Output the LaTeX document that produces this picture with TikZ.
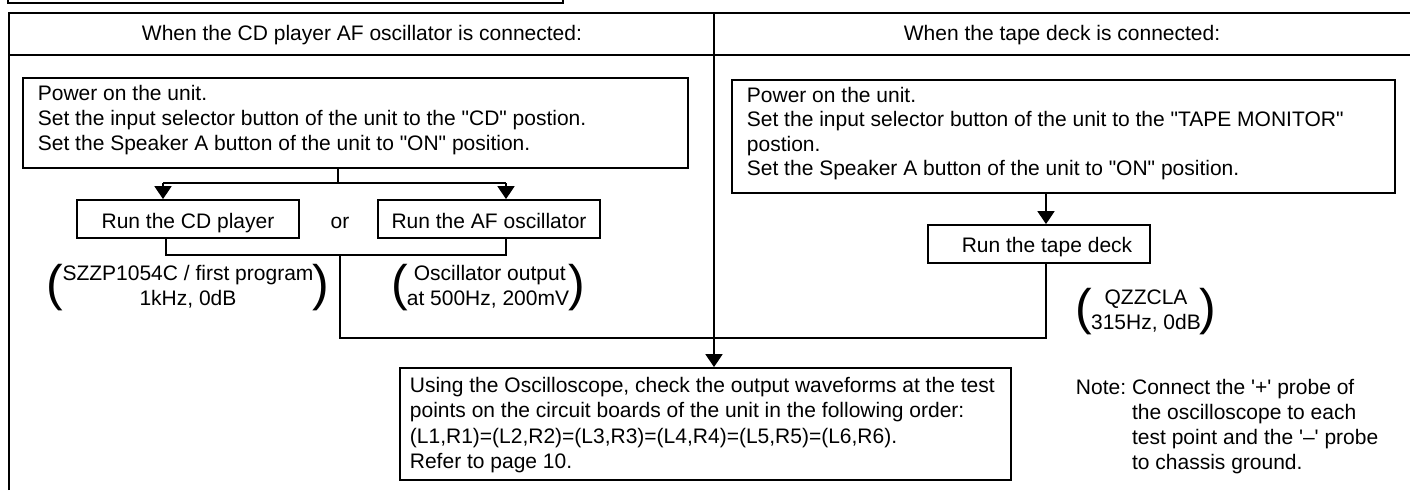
\documentclass[tikz,border=0pt]{standalone}
\usepackage{fontspec}
\setmainfont{Liberation Sans}
\usetikzlibrary{arrows.meta}
\newcommand\bigpar[1]{\vcenter{\hbox{\fontsize{50}{50}\selectfont #1}}}
\newcommand\pgroup[2]{$\bigpar{(}\kern-1pt\vcenter{\hbox{\begin{tabular}{@{}c@{}}#1\\#2\end{tabular}}}\kern-1pt\bigpar{)}$}
\newcommand\qd{\textquotedbl}
\begin{document}
\begin{tikzpicture}[x=1pt,y=-1pt,line width=1.8pt,
  every node/.style={font=\fontsize{21}{25}\selectfont},
  box/.style={draw,line width=1.8pt,inner sep=0pt},
  txt/.style={inner sep=0pt},
  arr/.style={-{Triangle[width=17pt,length=13pt]}}]
\useasboundingbox (0,0) rectangle (1410,490);
% partial box at the top
\draw (8,-2) -- (8,3) -- (563,3) -- (563,-2);
% frame
\draw (9,490) -- (9,13) -- (1410,13);
\draw (9,55) -- (1410,55);
\node[txt,anchor=base] (h1) at (362,40.5) {When the CD player AF oscillator is connected:};
\node[txt,anchor=base] (h2) at (1062,40.5) {When the tape deck is connected:};
% left column
\node[box,minimum width=665pt,minimum height=90pt] (lbox) at (355.5,123) {};
\node[txt,anchor=base west] (lt) at (37,100.5) {\begin{tabular}[t]{@{}l@{}}Power on the unit.\\
Set the input selector button of the unit to the \qd CD\qd\ postion.\\
Set the Speaker A button of the unit to \qd ON\qd\ position.\end{tabular}};
\node[box,minimum width=222pt,minimum height=38pt,text height=20pt,text depth=1pt] (cd) at (188,219) {Run the CD player};
\node[txt,anchor=base] (or) at (340,228.5) {or};
\node[box,minimum width=222pt,minimum height=38pt,text height=20pt,text depth=1pt] (af) at (489,219) {Run the AF oscillator};
\node[txt] (g1) at (188,288) {\pgroup{SZZP1054C / first program}{1kHz, 0dB}};
\node[txt] (g2) at (488,288) {\pgroup{\,Oscillator output}{at 500Hz, 200mV}};
% right column
\node[box,minimum width=663pt,minimum height=113pt] (rbox) at (1063.5,136.5) {};
\node[txt,anchor=base west,font=\fontsize{21}{24.4}\selectfont] (rt) at (746,102.5) {\begin{tabular}[t]{@{}l@{}}Power on the unit.\\
Set the input selector button of the unit to the \qd TAPE MONITOR\qd\\
postion.\\
Set the Speaker A button of the unit to \qd ON\qd\ position.\end{tabular}};
\node[box,minimum width=222pt,minimum height=38pt] (tape) at (1039,244) {};
\node[txt,anchor=base] (tapet) at (1047,252.5) {Run the tape deck};
\node[txt] (g3) at (1146,312) {\pgroup{QZZCLA}{315Hz, 0dB}};
% bottom
\node[box,minimum width=611pt,minimum height=112pt] (scope) at (705.5,424) {};
\node[txt,anchor=base west,font=\fontsize{21}{25.5}\selectfont] (st) at (409,392) {\begin{tabular}[t]{@{}l@{}}Using the Oscilloscope, check the output waveforms at the test\\
points on the circuit boards of the unit in the following order:\\
(L1,R1)=(L2,R2)=(L3,R3)=(L4,R4)=(L5,R5)=(L6,R6).\\
Refer to page 10.\end{tabular}};
\node[txt,anchor=base west] (note) at (1075,394.5) {\begin{tabular}[t]{@{}l@{\hspace{6pt}}l@{}}Note: & Connect the \textquotesingle+\textquotesingle\ probe of\\
 & the oscilloscope to each\\
 & test point and the \textquotesingle--\textquotesingle\ probe\\
 & to chassis ground.\end{tabular}};
% connectors
\coordinate (dtop) at (714,13);
\draw[arr] (dtop) -- (dtop |- scope.north);
\coordinate (sp) at (338,183);
\coordinate (ca) at (163,183);
\coordinate (cb) at (506,183);
\draw (lbox.south -| sp) -- (sp);
\draw (ca) -- (cb);
\draw[arr] (ca) -- (ca |- cd.north);
\draw[arr] (cb) -- (cb |- af.north);
\coordinate (ja) at (166,255);
\coordinate (jb) at (506,255);
\coordinate (jc) at (340,255);
\coordinate (jd) at (340,338);
\coordinate (je) at (1046,338);
\draw (cd.south -| ja) -- (ja) -- (jb) -- (af.south -| jb);
\draw (jc) -- (jd) -- (je) -- (tape.south -| je);
\draw[arr] (rbox.south -| je) -- (tape.north -| je);
\end{tikzpicture}
\end{document}
